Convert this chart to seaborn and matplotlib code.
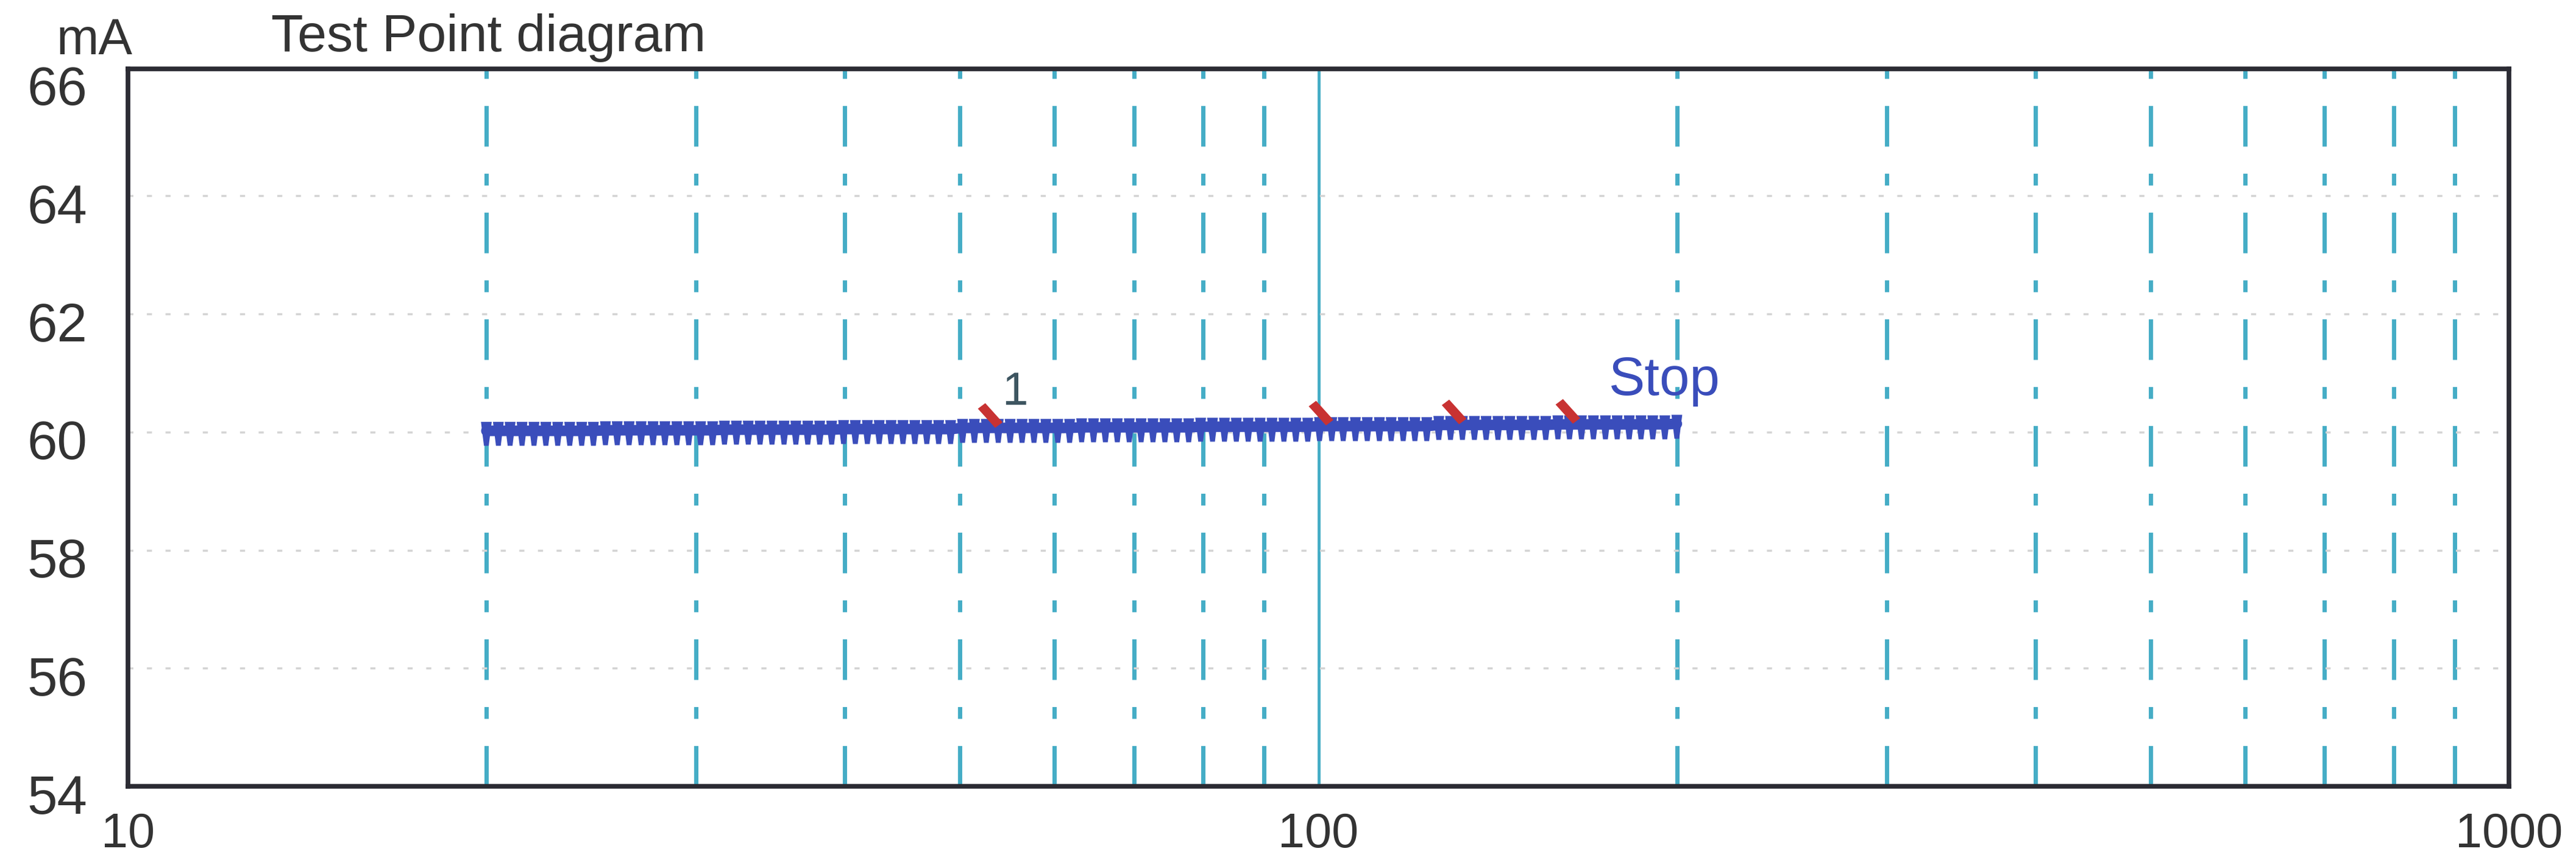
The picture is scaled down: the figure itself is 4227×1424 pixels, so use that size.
import matplotlib
matplotlib.use("Agg")
import matplotlib.pyplot as plt
from matplotlib import ticker, transforms
from matplotlib.path import Path
import numpy as np
import pandas as pd
import seaborn as sns

# ---------------- data ----------------
sweep_freq = [
    20.00, 20.47, 20.94, 21.43, 21.93, 22.44, 22.96, 23.50, 24.05, 24.60,
    25.18, 25.76, 26.36, 26.98, 27.61, 28.25, 28.91, 29.58, 30.27, 30.98,
    31.70, 32.44, 33.19, 33.96, 34.75, 35.57, 36.39, 37.24, 38.11, 39.00,
    39.91, 40.83, 41.79, 42.76, 43.75, 44.77, 45.81, 46.88, 47.97, 49.09,
    50.24, 51.40, 52.60, 53.83, 55.08, 56.37, 57.68, 59.02, 60.40, 61.80,
    63.25, 64.72, 66.22, 67.77, 69.35, 70.96, 72.61, 74.30, 76.03, 77.80,
    79.62, 81.47, 83.37, 85.31, 87.29, 89.33, 91.41, 93.53, 95.71, 97.94,
    100.2, 102.6, 104.9, 107.4, 109.9, 112.5, 115.1, 117.8, 120.5, 123.3,
    126.2, 129.1, 132.1, 135.2, 138.3, 141.5, 144.8, 148.2, 151.7, 155.2,
    158.9, 162.5, 166.3, 170.2, 174.2, 178.2, 182.4, 186.6, 190.9, 195.4,
    200.0,
]
sweep_current = [
    60.02, 60.02, 60.02, 60.02, 60.02, 60.02, 60.02, 60.02, 60.02, 60.02,
    60.03, 60.03, 60.03, 60.03, 60.03, 60.03, 60.03, 60.03, 60.03, 60.03,
    60.04, 60.04, 60.04, 60.04, 60.04, 60.04, 60.04, 60.04, 60.04, 60.04,
    60.05, 60.05, 60.05, 60.05, 60.05, 60.05, 60.05, 60.05, 60.05, 60.05,
    60.07, 60.07, 60.07, 60.07, 60.07, 60.07, 60.07, 60.07, 60.07, 60.07,
    60.08, 60.08, 60.08, 60.08, 60.08, 60.08, 60.08, 60.08, 60.08, 60.08,
    60.09, 60.09, 60.09, 60.09, 60.09, 60.09, 60.09, 60.09, 60.09, 60.09,
    60.10, 60.10, 60.10, 60.10, 60.10, 60.10, 60.10, 60.10, 60.10, 60.10,
    60.12, 60.12, 60.12, 60.12, 60.12, 60.12, 60.12, 60.12, 60.12, 60.12,
    60.13, 60.13, 60.13, 60.13, 60.13, 60.13, 60.13, 60.13, 60.13, 60.13,
    60.14,
]
test_point_freq = [53.0, 100.5, 130.0, 162.0]
test_point_current = [60.28, 60.32, 60.34, 60.35]

x_ticks = [10, 100, 1000]
x_tick_labels = ["10", "100", "1000"]
y_ticks = [54, 56, 58, 60, 62, 64, 66]
y_tick_labels = ["54", "56", "58", "60", "62", "64", "66"]

annot_texts = ["1", "Stop"]
annot_freq = [55.6, 195.4]
annot_current = [60.66, 60.86]

title_text = "Test Point diagram"
unit_text = "mA"

# ---------------- style ----------------
sns.set_theme(style="white")
plt.rcParams["font.family"] = ["Liberation Sans", "DejaVu Sans"]
plt.rcParams["lines.scale_dashes"] = False

BLUE = "#3a4dbb"
RED = "#c83232"
CYAN = "#45adc6"
FRAME = "#2b2b33"
TEXT = "#333333"

fig = plt.figure(figsize=(42.27, 14.24), dpi=100)
fig.patch.set_facecolor("white")
ax = fig.add_axes([210 / 4227, 1 - 1290 / 1424, (4117 - 210) / 4227, (1290 - 113) / 1424])
ax.set_facecolor("white")

ax.set_xscale("log")
ax.set_xlim(10, 1000)
ax.set_ylim(54, 66.15)

ax.set_xticks(x_ticks)
ax.set_xticklabels(x_tick_labels)
ax.xaxis.set_minor_locator(ticker.LogLocator(base=10, subs=np.arange(2, 10)))
ax.xaxis.set_minor_formatter(ticker.NullFormatter())
ax.set_yticks(y_ticks)
ax.set_yticklabels(y_tick_labels)

# grids
ax.grid(which="minor", axis="x", color=CYAN, linewidth=5, linestyle=(0, (48, 32, 14, 32)))
ax.grid(which="major", axis="x", color=CYAN, linewidth=3.5, linestyle="-")
ax.grid(which="major", axis="y", color="#d4d4d4", linewidth=2.5, linestyle=(0, (6, 16)))
ax.set_axisbelow(True)
ygl = ax.get_ygridlines()
ygl[0].set_visible(False)
ygl[-1].set_visible(False)

ax.tick_params(axis="both", which="both", length=0)
ax.tick_params(axis="x", pad=30, labelsize=57, labelcolor=TEXT)
ax.tick_params(axis="y", pad=48, labelsize=64, labelcolor=TEXT)

for s in ax.spines.values():
    s.set_color(FRAME)
    s.set_linewidth(5.5)
    s.set_visible(True)

# ---------------- data marks ----------------
df = pd.DataFrame({"freq": sweep_freq, "current": sweep_current})
tp = pd.DataFrame({"freq": test_point_freq, "current": test_point_current})

tooth = Path([(-0.36, 0.6), (0.36, 0.6), (0.16, -1.0), (-0.16, -1.0), (-0.36, 0.6)],
             [Path.MOVETO, Path.LINETO, Path.LINETO, Path.LINETO, Path.CLOSEPOLY])
slash = Path([(-1.0, 0.55), (-0.4, 1.0), (1.0, -0.55), (0.4, -1.0), (-1.0, 0.55)],
             [Path.MOVETO, Path.LINETO, Path.LINETO, Path.LINETO, Path.CLOSEPOLY])

sns.lineplot(data=df, x="freq", y="current", color=BLUE, linewidth=12.5,
             estimator=None, sort=False, ax=ax, zorder=4)
sns.scatterplot(data=df, x="freq", y="current", marker=tooth, s=1250, color=BLUE,
                edgecolor="none", linewidth=0, ax=ax, zorder=4)
sns.scatterplot(data=tp, x="freq", y="current", marker=slash, s=850, color=RED,
                edgecolor="none", linewidth=0, ax=ax, zorder=5)

ax.text(annot_freq[0], annot_current[0], annot_texts[0], ha="center", va="center",
        fontsize=55, color="#3d5560", zorder=6)
ax.text(annot_freq[1], annot_current[1], annot_texts[1], ha="center", va="center",
        fontsize=64, color=BLUE, zorder=6)

ax.set_xlabel("")
ax.set_ylabel("")

# shift y tick labels slightly down like the reference
offset = transforms.ScaledTranslation(0, -12 / 100, fig.dpi_scale_trans)
for lbl in ax.get_yticklabels():
    lbl.set_transform(lbl.get_transform() + offset)

fig.text(92 / 4227, 1 - 67 / 1424, unit_text, ha="left", va="center", fontsize=60, color=TEXT)
fig.text(445 / 4227, 1 - 62 / 1424, title_text, ha="left", va="center", fontsize=62, color=TEXT)

fig.savefig("out.png", dpi=100)
